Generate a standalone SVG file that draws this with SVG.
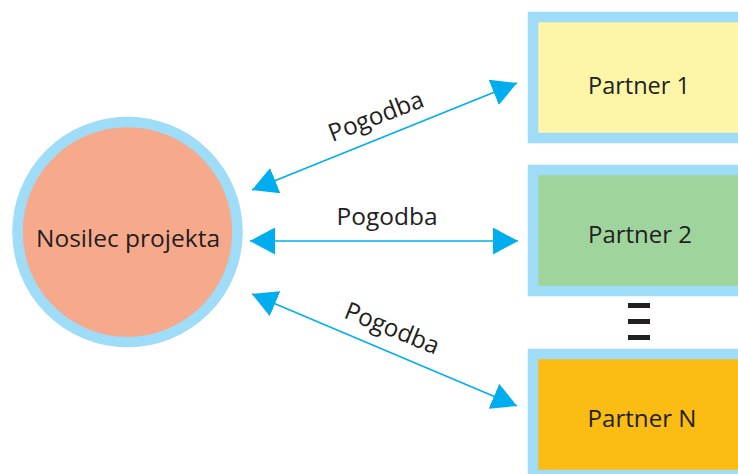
<svg xmlns="http://www.w3.org/2000/svg" width="738" height="474" viewBox="0 0 738 474">
<style>
.lbl{font-family:"Open Sans","Liberation Sans",sans-serif;font-size:24.5px;fill:#231f20;text-anchor:middle}
.ring{stroke:#9edcf7;stroke-width:10.5}
.conn{stroke:#00aeef;stroke-width:1.6;fill:none;marker-start:url(#ah);marker-end:url(#ah)}
</style>
<defs>
<marker id="ah" viewBox="0 0 25 27" refX="25" refY="13.5" markerWidth="25" markerHeight="27" markerUnits="userSpaceOnUse" orient="auto-start-reverse">
<path d="M0,0 L25,13.5 L0,27 z" fill="#00aeef"/>
</marker>
</defs>
<rect width="738" height="474" fill="#ffffff"/>
<g id="nosilec">
<circle class="ring" cx="127.5" cy="232" r="110" fill="#f7a98b"/>
<text class="lbl" x="128" y="247" textLength="184" lengthAdjust="spacingAndGlyphs">Nosilec projekta</text>
</g>
<g id="partner1">
<rect class="ring" x="533" y="17" width="220" height="121" fill="#fdf6a8"/>
<text class="lbl" x="639" y="94" textLength="102" lengthAdjust="spacingAndGlyphs">Partner 1</text>
</g>
<g id="partner2">
<rect class="ring" x="533" y="170" width="220" height="121" fill="#9fd49c"/>
<text class="lbl" x="640" y="243" textLength="104" lengthAdjust="spacingAndGlyphs">Partner 2</text>
</g>
<g id="partnerN">
<rect class="ring" x="533" y="354" width="220" height="121" fill="#fbbd13"/>
<text class="lbl" x="642" y="427" textLength="109" lengthAdjust="spacingAndGlyphs">Partner N</text>
</g>
<g id="ellipsis" fill="#231f20">
<rect x="628" y="303" width="22" height="5"/>
<rect x="628" y="319" width="22" height="5"/>
<rect x="628" y="335" width="22" height="5"/>
</g>
<g id="connectors">
<line class="conn" x1="252" y1="190" x2="517" y2="83"/>
<line class="conn" x1="250" y1="241" x2="518" y2="241"/>
<line class="conn" x1="252" y1="294" x2="517" y2="406"/>
<text class="lbl" transform="translate(379,124) rotate(-21)" textLength="100" lengthAdjust="spacingAndGlyphs">Pogodba</text>
<text class="lbl" x="387" y="225" textLength="101" lengthAdjust="spacingAndGlyphs">Pogodba</text>
<text class="lbl" transform="translate(389,336) rotate(22)" textLength="100" lengthAdjust="spacingAndGlyphs">Pogodba</text>
</g>
</svg>
